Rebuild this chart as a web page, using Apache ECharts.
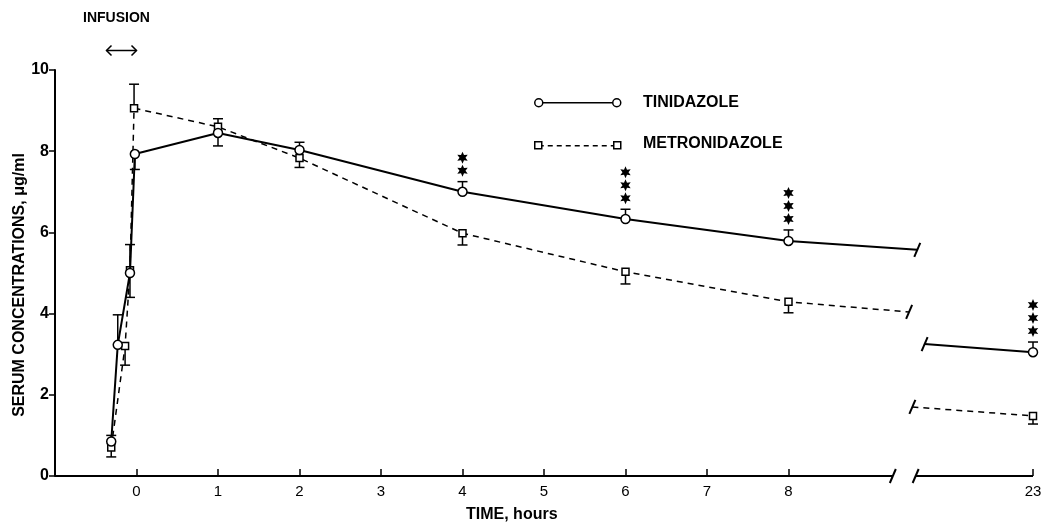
<!DOCTYPE html>
<html>
<head>
<meta charset="utf-8">
<title>Serum concentrations</title>
<script src="https://cdn.jsdelivr.net/npm/echarts@6/dist/echarts.min.js"></script>
<style>html,body{margin:0;background:#fff}#chart{width:1047px;height:527px}</style>
</head>
<body>
<div id="chart"></div>
<script>
// time in hours, concentration in ug/ml, "tip" = end of the error bar
var tinTime = [-0.31, -0.23, -0.08, -0.02, 1, 2, 4, 6, 8, 23];
var tinConc = [0.85, 3.23, 5.0, 7.93, 8.45, 8.03, 7.0, 6.33, 5.79, 3.05];
var tinTip  = [1.0, 3.97, 5.7, 7.55, 8.13, 8.22, 7.25, 6.57, 6.06, 3.3];
var metTime = [-0.31, -0.14, -0.08, -0.03, 1, 2, 4, 6, 8, 23];
var metConc = [0.7, 3.2, 5.07, 9.06, 8.6, 7.83, 5.98, 5.03, 4.29, 1.48];
var metTip  = [0.47, 2.73, 4.4, 9.65, 8.8, 7.6, 5.69, 4.73, 4.02, 1.28];
// line ends on each side of the axis break (no markers)
var tinTail = [9.58, 5.57], tinHead = [21.67, 3.25];
var metTail = [9.48, 4.04], metHead = [21.52, 1.70];
var starTime = [4, 6, 8, 23];
var starCount = [2, 3, 3, 3];
var xTicks = [0, 1, 2, 3, 4, 5, 6, 7, 8, 23];
var axisBreak = [9.28, 21.56];

var FONT = 'Liberation Sans';
function ax(t) { return t > 12 ? t - 12 : t; }

var myChart = echarts.init(document.getElementById('chart'));

function lineData(time, conc, tail, head, late) {
    var d = [];
    for (var i = 0; i < time.length; i++) {
        if ((time[i] > 12) === late) d.push([ax(time[i]), conc[i]]);
    }
    if (late) d.unshift({value: [ax(head[0]), head[1]], symbol: 'none'});
    else d.push({value: [ax(tail[0]), tail[1]], symbol: 'none'});
    return d;
}
function barData(time, conc, tip) {
    return time.map(function (t, i) { return [ax(t), conc[i], tip[i]]; });
}
var starData = starTime.map(function (t, i) {
    return [ax(t), tinTip[tinTime.indexOf(t)], starCount[i]];
});
var slashData = [[ax(axisBreak[0]), 0], [ax(axisBreak[1]), 0],
    [ax(tinTail[0]), tinTail[1]], [ax(tinHead[0]), tinHead[1]],
    [ax(metTail[0]), metTail[1]], [ax(metHead[0]), metHead[1]]];

function renderBar(params, api) {
    var p = api.coord([api.value(0), api.value(1)]);
    var q = api.coord([api.value(0), api.value(2)]);
    return {type: 'group', children: [
        {type: 'line', shape: {x1: p[0], y1: p[1], x2: q[0], y2: q[1]}, style: {stroke: '#000', lineWidth: 1.5}},
        {type: 'line', shape: {x1: q[0] - 5, y1: q[1], x2: q[0] + 5, y2: q[1]}, style: {stroke: '#000', lineWidth: 1.5}}
    ]};
}
function starPoints(cx, cy, r1, r2) {
    var pts = [];
    for (var k = 0; k < 12; k++) {
        var r = k % 2 ? r2 : r1, a = Math.PI * k / 6 - Math.PI / 2;
        pts.push([cx + r * Math.cos(a), cy + r * Math.sin(a)]);
    }
    return pts;
}
function renderStars(params, api) {
    var p = api.coord([api.value(0), api.value(1)]);
    var kids = [];
    for (var k = 0; k < api.value(2); k++) {
        kids.push({type: 'polygon', shape: {points: starPoints(p[0], p[1] - 11 - 13 * k, 6, 3)}, style: {fill: '#000'}});
    }
    return {type: 'group', children: kids};
}
function renderSlash(params, api) {
    var p = api.coord([api.value(0), api.value(1)]);
    return {type: 'line', shape: {x1: p[0] - 3, y1: p[1] + 7, x2: p[0] + 3, y2: p[1] - 7}, style: {stroke: '#000', lineWidth: 2}};
}
function renderAxisLine(params, api) {
    var a = api.coord([api.value(0), 0]), b = api.coord([api.value(1), 0]);
    return {type: 'line', shape: {x1: a[0], y1: a[1], x2: b[0], y2: b[1]}, style: {stroke: '#000', lineWidth: 2}};
}

var markStyle = {color: '#fff', borderColor: '#000', borderWidth: 1.5};
var lineStyleTin = {color: '#000', width: 2, type: 'solid'};
var lineStyleMet = {color: '#000', width: 1.5, type: [6, 5]};

var option = {
    animation: false,
    backgroundColor: '#fff',
    grid: {left: 55, right: 14, top: 70, bottom: 51, outerBoundsMode: 'none', containLabel: false},
    xAxis: {
        type: 'value', min: -1, max: 11,
        axisLine: {show: false},
        splitLine: {show: false},
        axisTick: {inside: true, length: 7, lineStyle: {color: '#000', width: 1.5},
            customValues: xTicks.map(ax)},
        axisLabel: {customValues: xTicks.map(ax), color: '#000', fontFamily: FONT, fontSize: 15, margin: 8,
            formatter: function (v) { return String(v > 10 ? v + 12 : v); }}
    },
    yAxis: {
        type: 'value', min: 0, max: 10, interval: 2,
        axisLine: {onZero: false, lineStyle: {color: '#000', width: 2}},
        axisTick: {length: 6, lineStyle: {color: '#000', width: 1.5}},
        splitLine: {show: false},
        axisLabel: {color: '#000', fontFamily: FONT, fontSize: 16, fontWeight: 'bold', margin: 6}
    },
    graphic: [
        {type: 'text', x: 20, y: 285, rotation: Math.PI / 2,
            style: {text: 'SERUM CONCENTRATIONS, \u03bcg/ml', font: 'bold 16px ' + FONT, fill: '#000',
                align: 'center', verticalAlign: 'middle'}},
        {type: 'text', left: 83, top: 11, style: {text: 'INFUSION', font: 'bold 14px ' + FONT, fill: '#000'}},
        {type: 'group', left: 104, top: 43, children: [
            {type: 'line', shape: {x1: 0, y1: 5, x2: 30, y2: 5}, style: {stroke: '#000', lineWidth: 1.5}},
            {type: 'polyline', shape: {points: [[5, 0], [0, 5], [5, 10]]}, style: {stroke: '#000', lineWidth: 1.5, fill: null}},
            {type: 'polyline', shape: {points: [[25, 0], [30, 5], [25, 10]]}, style: {stroke: '#000', lineWidth: 1.5, fill: null}}
        ]},
        {type: 'group', left: 534, top: 98, children: [
            {type: 'line', shape: {x1: 4, y1: 5, x2: 82, y2: 5}, style: {stroke: '#000', lineWidth: 1.5}},
            {type: 'circle', shape: {cx: 4, cy: 5, r: 4}, style: {fill: '#fff', stroke: '#000', lineWidth: 1.5}},
            {type: 'circle', shape: {cx: 82, cy: 5, r: 4}, style: {fill: '#fff', stroke: '#000', lineWidth: 1.5}}
        ]},
        {type: 'text', left: 643, top: 95, style: {text: 'TINIDAZOLE', font: 'bold 16px ' + FONT, fill: '#000'}},
        {type: 'group', left: 534, top: 141, children: [
            {type: 'line', shape: {x1: 4, y1: 4, x2: 82, y2: 4}, style: {stroke: '#000', lineWidth: 1.5, lineDash: [5, 4]}},
            {type: 'rect', shape: {x: 0, y: 0, width: 7, height: 7}, style: {fill: '#fff', stroke: '#000', lineWidth: 1.5}},
            {type: 'rect', shape: {x: 79, y: 0, width: 7, height: 7}, style: {fill: '#fff', stroke: '#000', lineWidth: 1.5}}
        ]},
        {type: 'text', left: 643, top: 136, style: {text: 'METRONIDAZOLE', font: 'bold 16px ' + FONT, fill: '#000'}},
        {type: 'text', left: 466, top: 507, style: {text: 'TIME, hours', font: 'bold 16px ' + FONT, fill: '#000'}}
    ],
    series: [
        {type: 'custom', name: 'axis', renderItem: renderAxisLine, clip: false, z: 1,
            data: [[-1, ax(axisBreak[0])], [ax(axisBreak[1]), ax(23)]]},
        {type: 'custom', name: 'breaks', renderItem: renderSlash, clip: false, z: 1, data: slashData},
        {type: 'custom', name: 'tinBars', renderItem: renderBar, z: 1, data: barData(tinTime, tinConc, tinTip)},
        {type: 'custom', name: 'metBars', renderItem: renderBar, z: 1, data: barData(metTime, metConc, metTip)},
        {type: 'custom', name: 'stars', renderItem: renderStars, clip: false, z: 1, data: starData},
        {name: 'TINIDAZOLE', type: 'line', data: lineData(tinTime, tinConc, tinTail, tinHead, false),
            symbol: 'circle', symbolSize: 9, showAllSymbol: true, itemStyle: markStyle, lineStyle: lineStyleTin, z: 3},
        {name: 'TINIDAZOLE', type: 'line', data: lineData(tinTime, tinConc, tinTail, tinHead, true),
            symbol: 'circle', symbolSize: 9, showAllSymbol: true, itemStyle: markStyle, lineStyle: lineStyleTin, z: 3},
        {name: 'METRONIDAZOLE', type: 'line', data: lineData(metTime, metConc, metTail, metHead, false),
            symbol: 'rect', symbolSize: 7, showAllSymbol: true, itemStyle: markStyle, lineStyle: lineStyleMet, z: 2},
        {name: 'METRONIDAZOLE', type: 'line', data: lineData(metTime, metConc, metTail, metHead, true),
            symbol: 'rect', symbolSize: 7, showAllSymbol: true, itemStyle: markStyle, lineStyle: lineStyleMet, z: 2}
    ]
};
myChart.setOption(option);
</script>
</body>
</html>
